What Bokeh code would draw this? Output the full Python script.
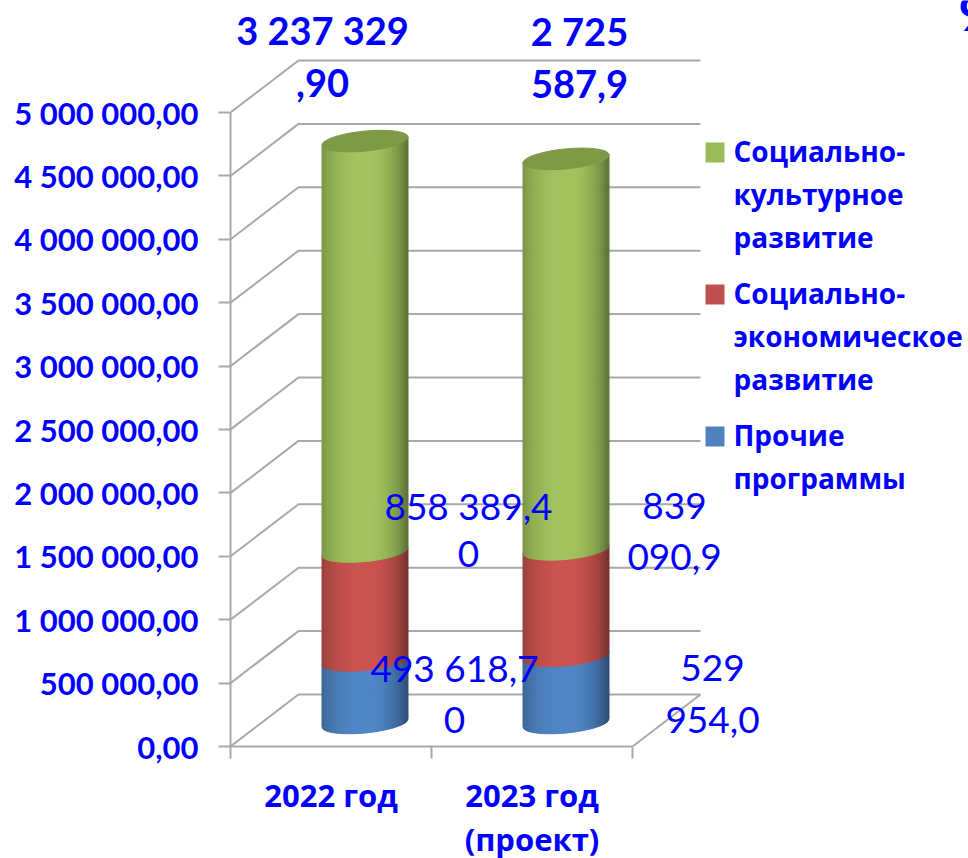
import numpy as np
from bokeh.plotting import figure
from bokeh.models import Range1d, LinearAxis, FixedTicker
from bokeh.core.properties import value
from bokeh.embed import file_html
from bokeh.resources import INLINE

categories = ["2022 год", "2023 год\n(проект)"]
series_names = ["Прочие программы", "Социально-экономическое развитие", "Социально-культурное развитие"]
blue_values = [493618.7, 529954.0]
red_values = [858389.4, 839090.9]
# heights as drawn in the picture (2023's green column is taller than its label says)
green_values = [3237329.9, 3080000.0]
green_labels = [["3 237 329", ",90"], ["2 725", "587,9"]]
red_labels = [["858 389,4", "0"], ["839", "090,9"]]
blue_labels = [["493 618,7", "0"], ["529", "954,0"]]
y_ticks = [0, 500000, 1000000, 1500000, 2000000, 2500000, 3000000, 3500000, 4000000, 4500000, 5000000]
y_tick_labels = ["0,00", "500 000,00", "1 000 000,00", "1 500 000,00", "2 000 000,00", "2 500 000,00",
                 "3 000 000,00", "3 500 000,00", "4 000 000,00", "4 500 000,00", "5 000 000,00"]
legend_labels = [["Социально-", "культурное", "развитие"],
                 ["Социально-", "экономическое", "развитие"],
                 ["Прочие", "программы"]]

BLUE = "#0000ff"
GRID = "#a9a9a9"
FONT = "Lato"
CYR = "Open Sans"
PXY = 5000000 / 634.0      # value per pixel
PXX = 1 / 201.0            # category per pixel
FRAME_L, FRAME_R, FRAME_T, FRAME_B = 230, 968, 0, 746


def X(px):
    return 0.5 + (px - FRAME_L) * PXX


def V(py):
    return (FRAME_B - py) * PXY


p = figure(frame_width=FRAME_R - FRAME_L, frame_height=FRAME_B - FRAME_T, output_backend="svg", toolbar_location=None,
           x_range=Range1d(X(FRAME_L), X(FRAME_R)), y_range=Range1d(V(FRAME_B), V(FRAME_T)),
           x_axis_location=None, y_axis_location=None,
           min_border_left=FRAME_L, min_border_right=0, min_border_top=0, min_border_bottom=858 - FRAME_B)
p.outline_line_color = None
p.xgrid.visible = False
p.ygrid.visible = False
p.background_fill_color = None

# 3D wall gridlines
DX, DY = 68 * PXX, 52 * PXY
for t in y_ticks:
    p.line([0.5, 0.5 + DX, 2.5 + DX], [t, t + DY, t + DY], line_color=GRID, line_width=2)
p.line([2.5, 2.5 + DX], [0, DY], line_color=GRID, line_width=2)

yax = LinearAxis(ticker=FixedTicker(ticks=y_ticks), bounds=(0, 5000000))
yax.major_label_overrides = {t: s for t, s in zip(y_ticks, y_tick_labels)}
yax.major_label_text_font = FONT
yax.major_label_text_font_style = "bold"
yax.major_label_text_font_size = "31px"
yax.major_label_text_color = BLUE
yax.major_label_standoff = 20
yax.major_tick_in = 0
yax.major_tick_out = 12
yax.minor_tick_line_color = None
yax.major_tick_line_color = GRID
yax.major_tick_line_width = 2
yax.axis_line_color = GRID
yax.axis_line_width = 2
p.add_layout(yax, "left")

xax = LinearAxis(ticker=FixedTicker(ticks=[1, 2], minor_ticks=[0.5, 1.5, 2.5]), bounds=(0.5, 2.5))
xax.major_label_overrides = {1: categories[0], 2: categories[1]}
xax.major_label_text_font = CYR
xax.major_label_text_font_style = "bold"
xax.major_label_text_font_size = "31px"
xax.major_label_text_color = BLUE
xax.major_label_text_line_height = 1.05
xax.major_label_standoff = 15
xax.major_tick_line_color = None
xax.minor_tick_in = 0
xax.minor_tick_out = 12
xax.minor_tick_line_color = GRID
xax.minor_tick_line_width = 2
xax.axis_line_color = GRID
xax.axis_line_width = 2
p.add_layout(xax, "below")


def shade(hex_color, f):
    c = [int(hex_color[i:i + 2], 16) for i in (1, 3, 5)]
    return "#%02x%02x%02x" % tuple(int(min(255, v * f)) for v in c)


N = 44
HALF = 43 * PXX
TILT, B = 4 * PXY, 10 * PXY
BASE = (FRAME_B - 722.5) * PXY
edges = np.linspace(-1, 1, N + 1)


def front(t):
    return TILT * t - B * np.sqrt(np.maximum(0, 1 - t * t))


def profile(t):
    if t < 0:
        return 1 - 0.24 * abs(t) ** 2.5
    return 1 - 0.42 * abs(t) ** 2.5


for i in range(2):
    cx = i + 1 + DX / 2
    bottom = BASE
    for vals, col in ((blue_values, "#4f86c6"), (red_values, "#cb5450"), (green_values, "#a2c45e")):
        top = bottom + vals[i]
        xs, ys, cs = [], [], []
        for k in range(N):
            tt = np.linspace(edges[k], edges[k + 1], 3)
            xs.append(list(cx + HALF * tt) + list(cx + HALF * tt[::-1]))
            ys.append(list(bottom + front(tt)) + list(top + front(tt[::-1])))
            cs.append(shade(col, profile((edges[k] + edges[k + 1]) / 2)))
        p.patches(xs, ys, fill_color=cs, line_color=cs, line_width=1)
        bottom = top
    # top cap
    ang = np.linspace(0, 2 * np.pi, 60)
    tc = np.cos(ang)
    p.patch(cx + HALF * tc, bottom + TILT * tc + B * np.sin(ang), fill_color="#7e9a46", line_color="#7e9a46")


def draw_text(lines, xs_px, ys_px, size, style="normal", font=FONT):
    p.text([X(v) for v in xs_px], [V(v) for v in ys_px], text=lines,
           text_font=value(font), text_font_style=style, text_font_size=size,
           text_color=BLUE, text_align="center", text_baseline="middle")


draw_text(green_labels[0] + green_labels[1], [322, 322, 579, 579], [29, 82, 30, 83], "38px", "bold")
draw_text(red_labels[0] + red_labels[1], [468, 468, 674, 674], [505, 553, 505, 556], "37px")
draw_text(blue_labels[0] + blue_labels[1], [454, 454, 712, 712], [667, 719, 667, 719], "37px")

# legend
swatches = ["#9bbb59", "#c0504d", "#4f81bd"]
sw_y = [152, 294, 436]
for col, y0, lines in zip(swatches, sw_y, legend_labels):
    p.quad(left=X(705), right=X(724), top=V(y0 - 10), bottom=V(y0 + 10), fill_color=col, line_color=None)
    for j, s in enumerate(lines):
        p.text([X(733)], [V(y0 - 2 + j * 43)], text=[s], text_font=value(CYR), text_font_style="bold",
               text_font_size="28px", text_color=BLUE, text_align="left", text_baseline="middle")

# clipped glyph in the top right corner
p.text([X(958)], [V(12)], text=["9"], text_font=value(FONT), text_font_style="bold", text_font_size="50px",
       text_color=BLUE, text_align="left", text_baseline="alphabetic")

open("out.html", "w").write(file_html(p, INLINE))
